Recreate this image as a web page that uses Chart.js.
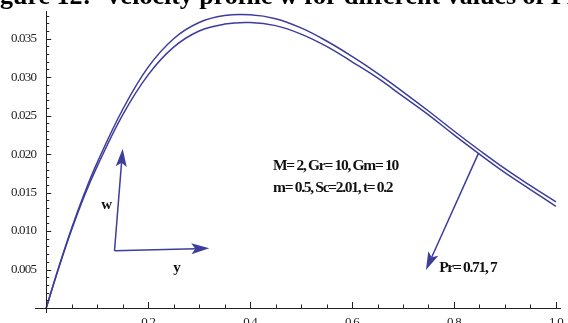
<!DOCTYPE html>
<html lang="en">
<head>
<meta charset="UTF-8">
<title>Velocity profile w</title>
<script src="https://cdn.jsdelivr.net/npm/chart.js"></script>
<style>
  body { margin: 0; background: #fff; overflow: hidden; }
  canvas { display: block; }
</style>
</head>
<body>
<canvas id="velocityChart" width="568" height="323"></canvas>
<script>
// distance across the channel
const yPos = [0, 0.025, 0.05, 0.075, 0.1, 0.15, 0.2, 0.25, 0.3, 0.35, 0.4, 0.45,
              0.5, 0.55, 0.6, 0.65, 0.7, 0.75, 0.8, 0.85, 0.9, 0.95, 1.0];
// velocity w for Pr = 0.71 and Pr = 7
const wPr071 = [0, 0.0054, 0.0104, 0.0149, 0.0189, 0.0258, 0.0313, 0.0350, 0.0371, 0.0380, 0.0381, 0.0376,
                0.0364, 0.0347, 0.0327, 0.0305, 0.0281, 0.0256, 0.0230, 0.0205, 0.0181, 0.0159, 0.0138];
const wPr7   = [0, 0.0053, 0.0102, 0.0146, 0.0184, 0.0251, 0.0303, 0.0339, 0.0360, 0.0369, 0.0371, 0.0367,
                0.0356, 0.0340, 0.0320, 0.0299, 0.0275, 0.0251, 0.0225, 0.0200, 0.0176, 0.0154, 0.0132];

const xTickLabels = [0.2, 0.4, 0.6, 0.8, 1.0];
const yTickLabels = [0.005, 0.010, 0.015, 0.020, 0.025, 0.030, 0.035];
const xMinorStep = 0.05;
const yMinorStep = 0.001;

const titleText = 'Figure 12:  Velocity profile w for different values of Pr';

// annotations, in data coordinates
const notes = [
    { text: 'M= 2, Gr= 10, Gm= 10', x: 0.445, y: 0.01844, size: 15.5 },
    { text: 'm= 0.5, Sc=2.01, t= 0.2', x: 0.445, y: 0.01558, size: 15.5 },
    { text: 'Pr= 0.71, 7', x: 0.771, y: 0.0052, size: 15.5 },
    { text: 'w', x: 0.108, y: 0.01338, size: 15 },
    { text: 'y', x: 0.249, y: 0.0052, size: 15 }
];
const arrows = [
    { from: [0.134, 0.00744], to: [0.150, 0.0207] },
    { from: [0.134, 0.00744], to: [0.320, 0.00775] },
    { from: [0.848, 0.0201], to: [0.745, 0.00494] }
];

const lineColor = '#3d3d9c';

function drawArrow(ctx, x1, y1, x2, y2) {
    const ang = Math.atan2(y2 - y1, x2 - x1);
    const len = 18, half = 5.5, notch = 4;
    const bx = x2 - len * Math.cos(ang), by = y2 - len * Math.sin(ang);
    ctx.beginPath();
    ctx.moveTo(x1, y1);
    ctx.lineTo(bx + notch * Math.cos(ang), by + notch * Math.sin(ang));
    ctx.stroke();
    ctx.beginPath();
    ctx.moveTo(x2, y2);
    ctx.lineTo(bx - half * Math.sin(ang), by + half * Math.cos(ang));
    ctx.lineTo(bx + notch * Math.cos(ang), by + notch * Math.sin(ang));
    ctx.lineTo(bx + half * Math.sin(ang), by - half * Math.cos(ang));
    ctx.closePath();
    ctx.fill();
}

// axes through the origin with inward ticks, plus the text and arrows
const frameAxes = {
    id: 'frameAxes',
    afterDraw(chart) {
        const { ctx, chartArea: area, scales: { x, y } } = chart;
        const x0 = x.getPixelForValue(0), y0 = y.getPixelForValue(0);
        ctx.save();
        ctx.strokeStyle = '#222';
        ctx.lineWidth = 1;
        ctx.beginPath();
        ctx.moveTo(area.left, Math.round(y0) + 0.5);
        ctx.lineTo(area.right, Math.round(y0) + 0.5);
        ctx.moveTo(Math.round(x0) + 0.5, area.top);
        ctx.lineTo(Math.round(x0) + 0.5, area.bottom);
        ctx.stroke();

        ctx.fillStyle = '#222';
        ctx.font = '13px "Liberation Serif", "Times New Roman", serif';
        ctx.letterSpacing = '-0.8px';

        // x ticks
        ctx.beginPath();
        for (let v = xMinorStep; v <= 1.0001; v += xMinorStep) {
            const px = Math.round(x.getPixelForValue(v)) + 0.5;
            const major = xTickLabels.some(t => Math.abs(t - v) < 1e-6);
            ctx.moveTo(px, y0);
            ctx.lineTo(px, y0 - (major ? 6 : 3.5));
        }
        // y ticks
        for (let v = yMinorStep; v <= 0.0380001; v += yMinorStep) {
            const py = Math.round(y.getPixelForValue(v)) + 0.5;
            const major = yTickLabels.some(t => Math.abs(t - v) < 1e-7);
            ctx.moveTo(x0, py);
            ctx.lineTo(x0 + (major ? 5 : 3), py);
        }
        ctx.stroke();

        ctx.textAlign = 'center';
        ctx.textBaseline = 'top';
        xTickLabels.forEach(t => ctx.fillText(t.toFixed(1), x.getPixelForValue(t), y0 + 8));
        ctx.textAlign = 'right';
        ctx.textBaseline = 'middle';
        yTickLabels.forEach(t => ctx.fillText(t.toFixed(3), x0 - 10, y.getPixelForValue(t)));

        // annotations
        ctx.fillStyle = '#111';
        ctx.textAlign = 'left';
        notes.forEach(n => {
            ctx.font = 'bold ' + n.size + 'px "Liberation Serif", "Times New Roman", serif';
            ctx.letterSpacing = n.text.length > 2 ? '-1.3px' : '0px';
            ctx.fillText(n.text, x.getPixelForValue(n.x), y.getPixelForValue(n.y));
        });

        ctx.strokeStyle = lineColor;
        ctx.fillStyle = lineColor;
        ctx.lineWidth = 1.5;
        arrows.forEach(a => drawArrow(ctx,
            x.getPixelForValue(a.from[0]), y.getPixelForValue(a.from[1]),
            x.getPixelForValue(a.to[0]), y.getPixelForValue(a.to[1])));

        // figure caption, partly cut off by the top edge
        ctx.fillStyle = '#000';
        ctx.font = 'bold 26px "Liberation Serif", "Times New Roman", serif';
        ctx.letterSpacing = '0px';
        ctx.textAlign = 'left';
        ctx.textBaseline = 'alphabetic';
        ctx.fillText(titleText, -ctx.measureText('Fi').width, 4);
        ctx.restore();
    }
};

const ctx = document.getElementById('velocityChart').getContext('2d');
new Chart(ctx, {
    type: 'scatter',
    data: {
        datasets: [
            { label: 'Pr = 0.71', data: yPos.map((v, i) => ({ x: v, y: wPr071[i] })) },
            { label: 'Pr = 7', data: yPos.map((v, i) => ({ x: v, y: wPr7[i] })) }
        ].map(d => Object.assign(d, {
            showLine: true,
            borderColor: lineColor,
            borderWidth: 1.5,
            pointRadius: 0,
            tension: 0.4,
            fill: false
        }))
    },
    options: {
        responsive: false,
        animation: false,
        layout: { padding: { left: 35, right: 7, top: 11, bottom: 10 } },
        plugins: { legend: { display: false }, tooltip: { enabled: false }, title: { display: false } },
        scales: {
            x: { type: 'linear', min: -0.022, max: 1.01, display: false },
            y: { type: 'linear', min: -0.00065, max: 0.0386, display: false }
        }
    },
    plugins: [frameAxes]
});
</script>
</body>
</html>
